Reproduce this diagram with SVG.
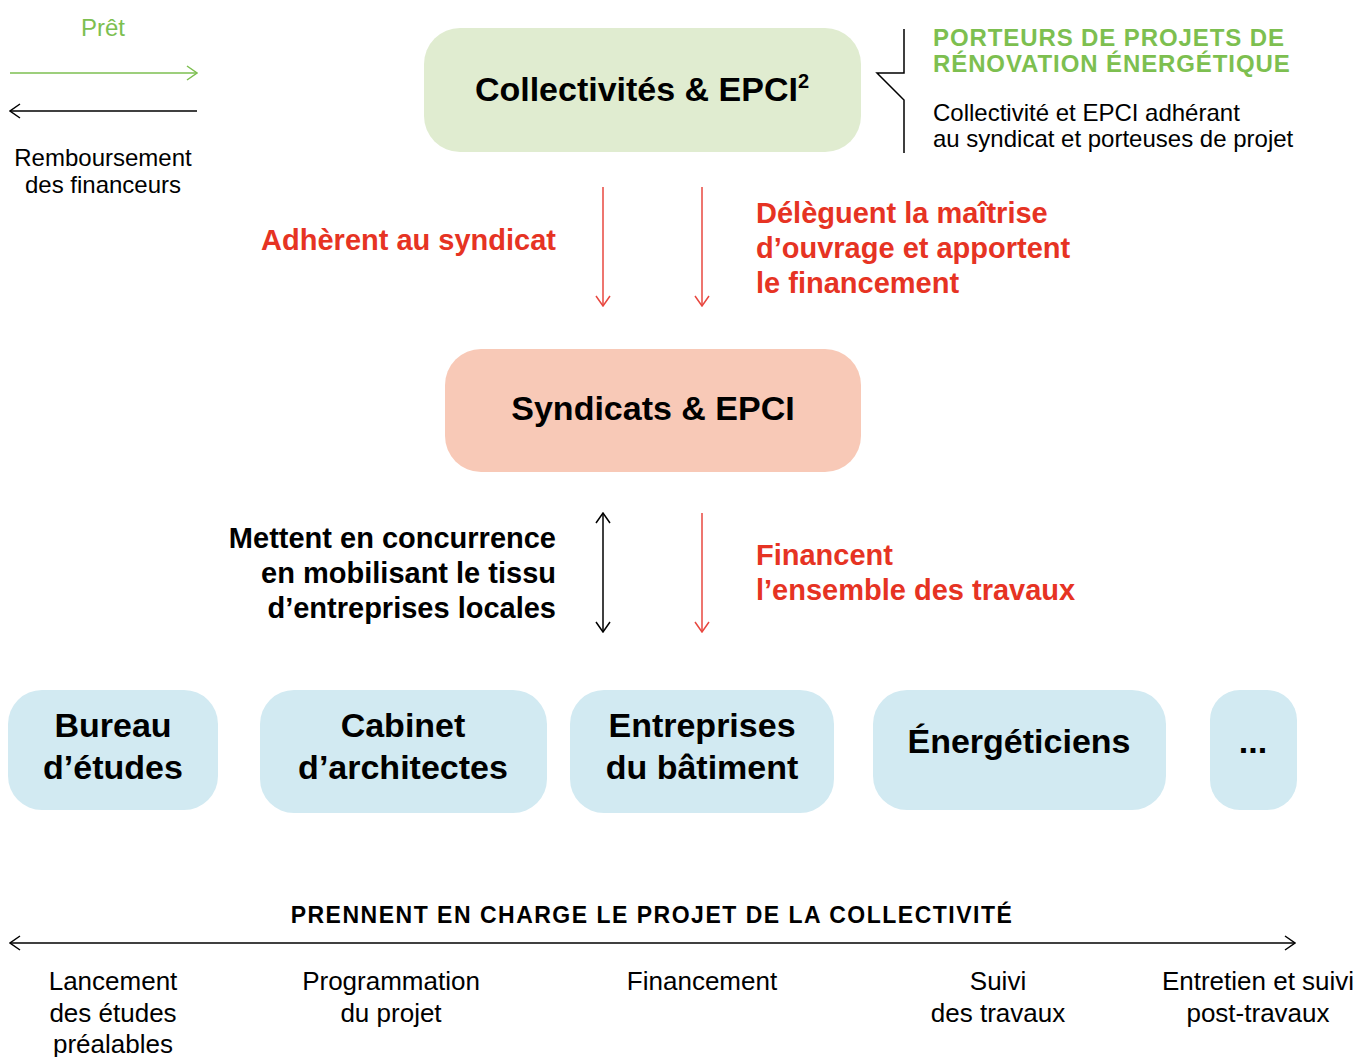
<svg xmlns="http://www.w3.org/2000/svg" width="1361" height="1057" viewBox="0 0 1361 1057">
<style>
text{font-family:"Liberation Sans",Arial,sans-serif}
.b{font-weight:bold}
.node{font-size:34px;font-weight:bold;fill:#000;text-anchor:middle}
.red{fill:#e63323;font-size:29px;font-weight:bold}
.blk{fill:#000;font-size:29px;font-weight:bold}
.reg{font-size:24px;fill:#000}
.lab{font-size:26px;fill:#000;text-anchor:middle}
.green{fill:#7dbf50}
.ln{fill:none;stroke-width:1.5}
</style>
<defs>
<marker id="ar" viewBox="0 0 12 16" refX="11" refY="8" markerWidth="12" markerHeight="16" markerUnits="userSpaceOnUse" orient="auto-start-reverse"><path d="M1 1 L11 8 L1 15" fill="none" stroke="#e8473f" stroke-width="1.5"/></marker>
<marker id="ak" viewBox="0 0 12 16" refX="11" refY="8" markerWidth="12" markerHeight="16" markerUnits="userSpaceOnUse" orient="auto-start-reverse"><path d="M1 1 L11 8 L1 15" fill="none" stroke="#000" stroke-width="1.5"/></marker>
<marker id="ag" viewBox="0 0 12 16" refX="11" refY="8" markerWidth="12" markerHeight="16" markerUnits="userSpaceOnUse" orient="auto-start-reverse"><path d="M1 1 L11 8 L1 15" fill="none" stroke="#7dbf50" stroke-width="1.5"/></marker>
</defs>
<rect width="1361" height="1057" fill="#fff"/>

<g id="legend">
<text x="103" y="36" class="green" font-size="24" text-anchor="middle">Prêt</text>
<text x="103" y="166" class="reg" text-anchor="middle">Remboursement</text>
<text x="103" y="193" class="reg" text-anchor="middle">des financeurs</text>
</g>

<g id="n-collectivites">
<rect x="424" y="28" width="437" height="124" rx="36" fill="#e0ecd0"/>
<text x="642" y="101" class="node" font-size="34.5">Collectivités &amp; EPCI<tspan font-size="20" dy="-13">2</tspan></text>
</g>

<g id="porteurs">
<path d="M904 29 V73 H877 L904 100 V153" fill="none" stroke="#000" stroke-width="1.5"/>
<text x="933" y="46" class="green b" font-size="24" letter-spacing="0.9">PORTEURS DE PROJETS DE</text>
<text x="933" y="72" class="green b" font-size="24" letter-spacing="0.9">RÉNOVATION ÉNERGÉTIQUE</text>
<text x="933" y="121" class="reg">Collectivité et EPCI adhérant</text>
<text x="933" y="147" class="reg">au syndicat et porteuses de projet</text>
</g>

<g id="n-syndicats">
<rect x="445" y="349" width="416" height="123" rx="36" fill="#f8c9b7"/>
<text x="653" y="420" class="node">Syndicats &amp; EPCI</text>
</g>

<g id="n-bureau">
<rect x="8" y="690" width="210" height="120" rx="34" fill="#d2eaf2"/>
<text x="113" y="737" class="node">Bureau</text>
<text x="113" y="779" class="node">d’études</text>
</g>
<g id="n-cabinet">
<rect x="260" y="690" width="287" height="123" rx="34" fill="#d2eaf2"/>
<text x="403" y="737" class="node">Cabinet</text>
<text x="403" y="779" class="node">d’architectes</text>
</g>
<g id="n-entreprises">
<rect x="570" y="690" width="264" height="123" rx="34" fill="#d2eaf2"/>
<text x="702" y="737" class="node">Entreprises</text>
<text x="702" y="779" class="node">du bâtiment</text>
</g>
<g id="n-energeticiens">
<rect x="873" y="690" width="293" height="120" rx="34" fill="#d2eaf2"/>
<text x="1019" y="753" class="node">Énergéticiens</text>
</g>
<g id="n-etc">
<rect x="1210" y="690" width="87" height="120" rx="30" fill="#d2eaf2"/>
<text x="1253" y="753" class="node">...</text>
</g>

<g id="connectors">
<line x1="10" y1="73" x2="197" y2="73" class="ln" stroke="#7dbf50" marker-end="url(#ag)"/>
<line x1="197" y1="111" x2="10" y2="111" class="ln" stroke="#000" marker-end="url(#ak)"/>
<line x1="603" y1="187" x2="603" y2="306" class="ln" stroke="#e8473f" marker-end="url(#ar)"/>
<line x1="702" y1="187" x2="702" y2="306" class="ln" stroke="#e8473f" marker-end="url(#ar)"/>
<line x1="603" y1="513" x2="603" y2="632" class="ln" stroke="#000" marker-start="url(#ak)" marker-end="url(#ak)"/>
<line x1="702" y1="513" x2="702" y2="632" class="ln" stroke="#e8473f" marker-end="url(#ar)"/>
<line x1="10" y1="943" x2="1295" y2="943" class="ln" stroke="#000" marker-start="url(#ak)" marker-end="url(#ak)"/>
</g>

<g id="labels">
<text x="556" y="250" class="red" text-anchor="end">Adhèrent au syndicat</text>
<text x="756" y="223" class="red">Délèguent la maîtrise</text>
<text x="756" y="258" class="red">d’ouvrage et apportent</text>
<text x="756" y="293" class="red">le financement</text>
<text x="556" y="548" class="blk" text-anchor="end">Mettent en concurrence</text>
<text x="556" y="583" class="blk" text-anchor="end">en mobilisant le tissu</text>
<text x="556" y="618" class="blk" text-anchor="end">d’entreprises locales</text>
<text x="756" y="565" class="red">Financent</text>
<text x="756" y="600" class="red">l’ensemble des travaux</text>
</g>

<g id="timeline">
<text x="652" y="923" class="b" font-size="23" letter-spacing="1.5" text-anchor="middle">PRENNENT EN CHARGE LE PROJET DE LA COLLECTIVITÉ</text>
<text x="113" y="990" class="lab">Lancement</text>
<text x="113" y="1022" class="lab">des études</text>
<text x="113" y="1053" class="lab">préalables</text>
<text x="391" y="990" class="lab">Programmation</text>
<text x="391" y="1022" class="lab">du projet</text>
<text x="702" y="990" class="lab">Financement</text>
<text x="998" y="990" class="lab">Suivi</text>
<text x="998" y="1022" class="lab">des travaux</text>
<text x="1258" y="990" class="lab">Entretien et suivi</text>
<text x="1258" y="1022" class="lab">post-travaux</text>
</g>
</svg>
